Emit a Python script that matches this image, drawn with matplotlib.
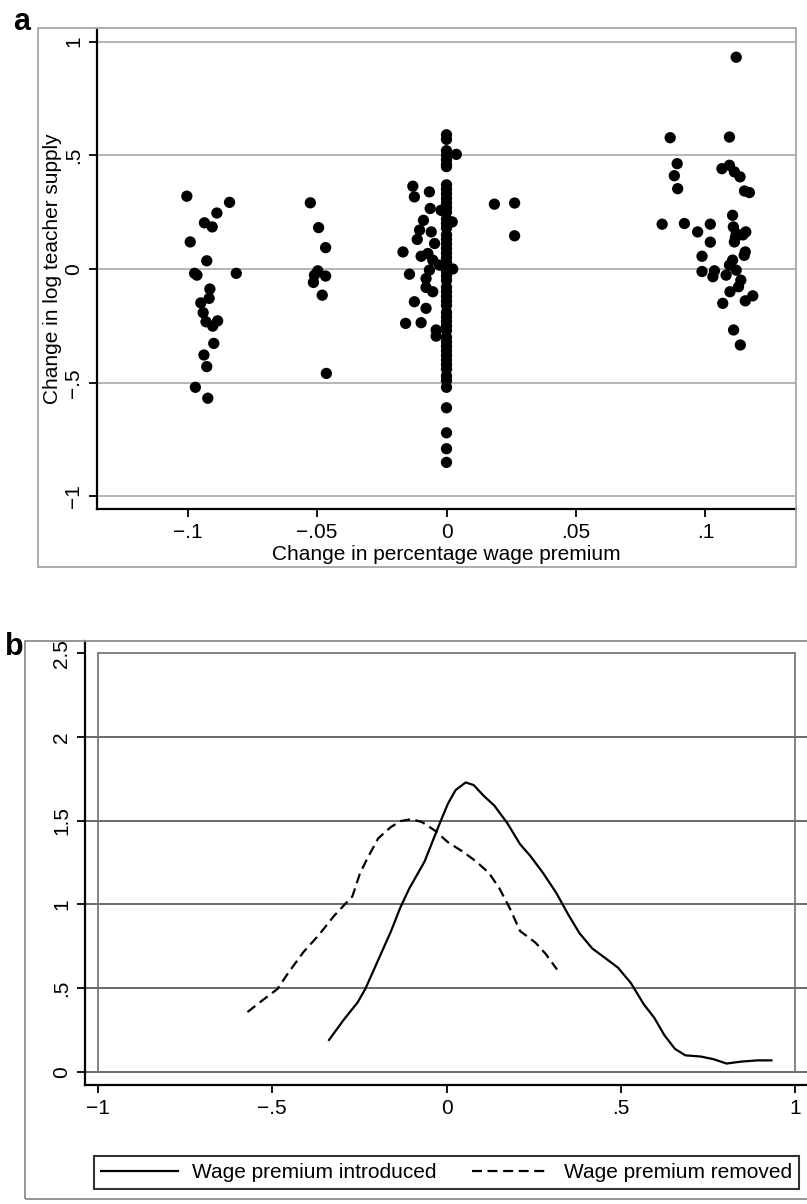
import numpy as np
import matplotlib.pyplot as plt
from matplotlib.patches import Rectangle
from matplotlib.lines import Line2D

plt.rcParams['font.family'] = ['Liberation Sans Narrow', 'Liberation Sans', 'DejaVu Sans']

# panel a: change in wage premium vs change in log teacher supply
x_neg10 = [-0.1003, -0.0990, -0.0838, -0.0887, -0.0935, -0.0905, -0.0926, -0.0973, -0.0964,
           -0.0812, -0.0914, -0.0917, -0.0949, -0.0940, -0.0929, -0.0884, -0.0903, -0.0899,
           -0.0937, -0.0926, -0.0970, -0.0922]
y_neg10 = [0.320, 0.119, 0.293, 0.246, 0.203, 0.185, 0.036, -0.019, -0.027,
           -0.019, -0.088, -0.129, -0.149, -0.192, -0.232, -0.228, -0.251, -0.327,
           -0.378, -0.429, -0.520, -0.568]

x_neg05 = [-0.0526, -0.0494, -0.0467, -0.0497, -0.0510, -0.0514, -0.0467, -0.0480, -0.0464]
y_neg05 = [0.291, 0.182, 0.094, -0.008, -0.027, -0.059, -0.031, -0.115, -0.459]

x_zero_col = [0.0] * 53
y_zero_col = [0.59, 0.57, 0.52, 0.50, 0.48, 0.46, 0.45, 0.37, 0.35, 0.33, 0.31, 0.29, 0.27,
              0.25, 0.22, 0.20, 0.18, 0.15, 0.13, 0.11, 0.09, 0.07, 0.05, 0.03, 0.01, -0.01,
              -0.03, -0.05, -0.08, -0.10, -0.12, -0.14, -0.16, -0.19, -0.21, -0.23, -0.25,
              -0.27, -0.30, -0.32, -0.34, -0.36, -0.38, -0.40, -0.42, -0.44, -0.47, -0.49,
              -0.52, -0.61, -0.72, -0.79, -0.85]

x_near0 = [0.0038, -0.0130, -0.0124, -0.0066, -0.0063, -0.0021, 0.0022, -0.0089, -0.0104,
           -0.0059, -0.0113, -0.0046, -0.0168, -0.0098, -0.0072, -0.0053, -0.0066, -0.0079,
           -0.0143, 0.0024, -0.0027, -0.0079, -0.0053, -0.0124, -0.0079, -0.0158, -0.0098,
           -0.0040, -0.0040, 0.0185, 0.0263, 0.0263]
y_near0 = [0.504, 0.364, 0.317, 0.339, 0.266, 0.258, 0.207, 0.214, 0.171,
           0.163, 0.130, 0.112, 0.075, 0.056, 0.068, 0.039, -0.005, -0.042,
           -0.023, 0.000, 0.017, -0.081, -0.100, -0.144, -0.173, -0.239, -0.236,
           -0.268, -0.295, 0.285, 0.290, 0.146]

x_pos10 = [0.1119, 0.0864, 0.1093, 0.0891, 0.0880, 0.0893, 0.1064, 0.1093, 0.1112, 0.1134,
           0.1151, 0.1170, 0.0833, 0.0919, 0.1019, 0.0970, 0.1019, 0.0987, 0.0987, 0.1029,
           0.1035, 0.1105, 0.1108, 0.1119, 0.1112, 0.1156, 0.1154, 0.1105, 0.1093, 0.1119,
           0.1080, 0.1137, 0.1128, 0.1095, 0.1067, 0.1154, 0.1183, 0.1109, 0.1135, 0.1116,
           0.1145, 0.1150]
y_pos10 = [0.931, 0.577, 0.580, 0.463, 0.410, 0.353, 0.441, 0.456, 0.427, 0.405,
           0.343, 0.336, 0.197, 0.200, 0.197, 0.163, 0.118, 0.056, -0.011, -0.034,
           -0.008, 0.236, 0.185, 0.156, 0.119, 0.163, 0.075, 0.039, 0.017, -0.005,
           -0.027, -0.049, -0.078, -0.100, -0.151, -0.140, -0.118, -0.268, -0.334, 0.138,
           0.150, 0.060]

xticks_a = [-0.1, -0.05, 0, 0.05, 0.1]
xlabels_a = ['\u2212.1', '\u2212.05', '0', '.05', '.1']
yticks_a = [-1, -0.5, 0, 0.5, 1]
ylabels_a = ['\u22121', '\u2212.5', '0', '.5', '1']

# panel b: kernel densities
x_intro = [-0.337, -0.295, -0.255, -0.233, -0.196, -0.159, -0.133, -0.107, -0.085, -0.063,
           -0.041, -0.019, 0.004, 0.026, 0.055, 0.078, 0.107, 0.137, 0.174, 0.211, 0.240,
           0.277, 0.314, 0.351, 0.381, 0.418, 0.455, 0.492, 0.529, 0.566, 0.596, 0.625,
           0.655, 0.685, 0.729, 0.766, 0.803, 0.847, 0.892, 0.932]
y_intro = [0.191, 0.311, 0.415, 0.495, 0.668, 0.841, 0.979, 1.094, 1.175, 1.256,
           1.371, 1.486, 1.601, 1.682, 1.728, 1.712, 1.647, 1.590, 1.486, 1.359, 1.290,
           1.187, 1.071, 0.933, 0.829, 0.737, 0.680, 0.622, 0.530, 0.403, 0.323, 0.219,
           0.138, 0.099, 0.092, 0.076, 0.050, 0.062, 0.069, 0.069]

x_remov = [-0.571, -0.529, -0.485, -0.455, -0.411, -0.366, -0.322, -0.270, -0.248, -0.226,
           -0.196, -0.159, -0.130, -0.100, -0.070, -0.033, 0.004, 0.048, 0.085, 0.122,
           0.152, 0.181, 0.211, 0.255, 0.285, 0.317]
y_remov = [0.357, 0.426, 0.495, 0.588, 0.714, 0.818, 0.933, 1.048, 1.187, 1.279,
           1.394, 1.463, 1.498, 1.509, 1.491, 1.440, 1.371, 1.313, 1.256, 1.187,
           1.094, 0.979, 0.841, 0.772, 0.703, 0.611]

xticks_b = [-1, -0.5, 0, 0.5, 1]
xlabels_b = ['\u22121', '\u2212.5', '0', '.5', '1']
yticks_b = [0, 0.5, 1, 1.5, 2, 2.5]
ylabels_b = ['0', '.5', '1', '1.5', '2', '2.5']

W, H = 807, 1204
fig = plt.figure(figsize=(W / 100, H / 100), dpi=100)


def box(x0, y0, x1, y1):
    # pixel box (top-left origin) -> figure fraction
    return [x0 / W, 1 - y1 / H, (x1 - x0) / W, (y1 - y0) / H]


def style_axes(ax):
    for s in ['top', 'right']:
        ax.spines[s].set_visible(False)
    for s in ['left', 'bottom']:
        ax.spines[s].set_linewidth(1.6)
        ax.spines[s].set_color('black')
    ax.tick_params(length=6, width=1.3, labelsize=15, pad=4, colors='black')
    for lab in ax.get_yticklabels():
        lab.set_rotation(90)
        lab.set_va('center')


# outer grey frames
fig.patches.append(Rectangle((38 / W, 1 - 567 / H), (796 - 38) / W, (567 - 28) / H,
                             transform=fig.transFigure, fill=False, ec='#a6a6a6', lw=1.3))
fig.patches.append(Rectangle((25 / W, 1 - 1199 / H), (812 - 25) / W, (1199 - 641) / H,
                             transform=fig.transFigure, fill=False, ec='#8c8c8c', lw=1.3))

# panel a
ax1 = fig.add_axes(box(97, 29, 796, 509))
for g in yticks_a:
    ax1.axhline(g, color='#a8a8a8', lw=1.2, zorder=0)
for xs, ys in [(x_neg10, y_neg10), (x_neg05, y_neg05), (x_zero_col, y_zero_col),
               (x_near0, y_near0), (x_pos10, y_pos10)]:
    ax1.scatter(xs, ys, s=66, color='black', edgecolors='none', zorder=3)
ax1.set_xlim(-0.135, 0.135)
ax1.set_ylim(-1.055, 1.055)
ax1.set_xticks(xticks_a, xlabels_a)
ax1.set_yticks(yticks_a, ylabels_a)
style_axes(ax1)
ax1.set_xlabel('Change in percentage wage premium', fontsize=15)
ax1.set_ylabel('Change in log teacher supply', fontsize=15)
ax1.xaxis.set_label_coords(0.5, -0.075)
ax1.yaxis.set_label_coords(-0.05, 0.5)
fig.text(13 / W, 1 - 30 / H, 'a', fontsize=22, family='Liberation Sans', fontweight='bold')

# panel b
ax2 = fig.add_axes(box(85, 641, 807, 1085))
for g in yticks_b[:-1]:
    ax2.axhline(g, color='#505050', lw=1.2, zorder=0)
ax2.add_patch(Rectangle((-1, 0), 2, 2.5, fill=False, ec='#6e6e6e', lw=1.2, zorder=1))
l1, = ax2.plot(x_intro, y_intro, color='black', lw=1.6, label='Wage premium introduced')
l2, = ax2.plot(x_remov, y_remov, color='black', lw=1.6, dashes=(4.5, 2.5),
               label='Wage premium removed')
ax2.set_xlim(-1.037, 1.034)
ax2.set_ylim(-0.078, 2.572)
ax2.set_xticks(xticks_b, xlabels_b)
ax2.set_yticks(yticks_b, ylabels_b)
style_axes(ax2)
fig.text(5 / W, 1 - 655 / H, 'b', fontsize=22, family='Liberation Sans', fontweight='bold')

leg = fig.legend(handles=[l1, l2], loc='center', ncol=2, fontsize=15,
                 bbox_to_anchor=((92 + 801) / 2 / W, 1 - (1153 + 1192) / 2 / H),
                 frameon=True, fancybox=False, edgecolor='black', handlelength=3.7,
                 handletextpad=0.7, columnspacing=1.7, borderpad=0.35)
leg.get_frame().set_linewidth(1.5)

fig.savefig('out.png', dpi=100)
